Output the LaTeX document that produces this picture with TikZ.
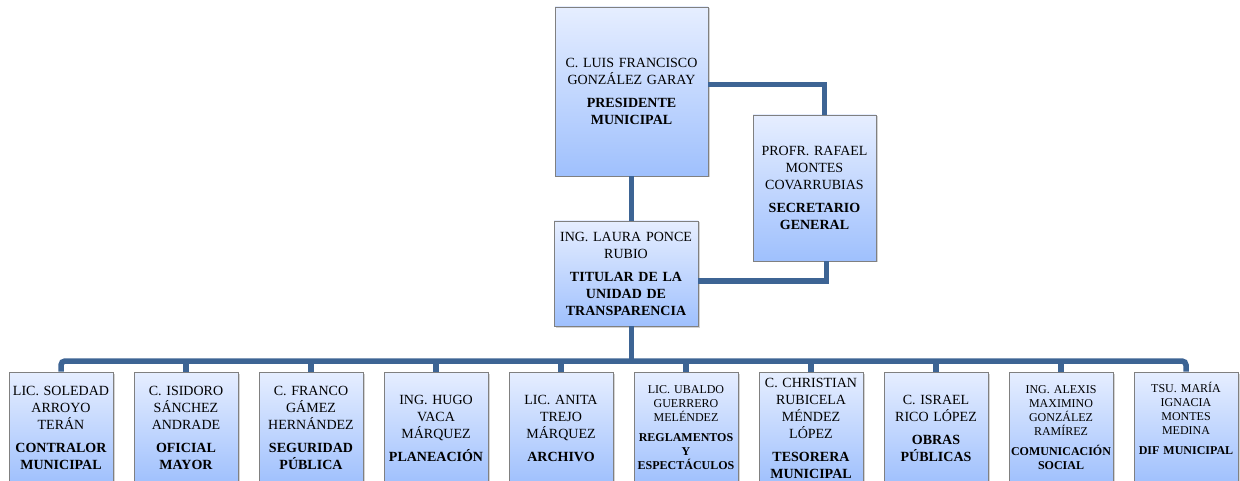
\documentclass[tikz,border=0pt]{standalone}
\usepackage{fontspec}
\setmainfont{Liberation Serif}
\usetikzlibrary{shadows}
\definecolor{boxtop}{HTML}{E6EEFF}
\definecolor{boxbot}{HTML}{9FC0FD}
\definecolor{linkcol}{HTML}{3D6494}

\begin{document}
\begin{tikzpicture}[x=1pt, y=-1pt,
    box/.style={draw=gray, line width=0.9pt, top color=boxtop, bottom color=boxbot, align=center, inner sep=1pt,
        drop shadow={opacity=0.35, shadow xshift=1.5pt, shadow yshift=-1.5pt}},
    big/.style={font=\fontsize{14}{17}\selectfont, text width=102pt},
    small/.style={font=\fontsize{12}{14}\selectfont, text width=102pt},
    link/.style={draw=linkcol, line width=5.5pt}]
\useasboundingbox (0,0) rectangle (1240,481);
\clip (0,0) rectangle (1240,481);
% upper part
\node[box, big, minimum width=153pt, minimum height=169pt, text width=145pt] (pres) at (631.5,91.5)
    {C. LUIS FRANCISCO\\GONZÁLEZ GARAY\\[6pt]{\bfseries PRESIDENTE\\MUNICIPAL}};
\node[box, big, minimum width=123pt, minimum height=146pt, text width=117pt] (sec) at (814.5,188)
    {PROFR. RAFAEL\\MONTES\\COVARRUBIAS\\[6pt]{\bfseries SECRETARIO\\GENERAL}};
\node[box, big, minimum width=144pt, minimum height=105pt, text width=138pt] (tit) at (626,273.5)
    {ING. LAURA PONCE\\RUBIO\\[6pt]{\bfseries TITULAR DE LA\\UNIDAD DE\\TRANSPARENCIA}};
\draw[link] ([yshift=7pt]pres.east) -| ([xshift=10pt]sec.north);
\draw[link] ([xshift=12pt]sec.south) |- ([yshift=-7.5pt]tit.east);
\draw[link] (pres.south) -- (pres.south |- tit.north);
% departments
\coordinate (bus) at (631.5,361);
\foreach \i/\who/\job/\sz in {
    1/{LIC. SOLEDAD\\ARROYO\\TERÁN}/{CONTRALOR\\MUNICIPAL}/big,
    2/{C. ISIDORO\\SÁNCHEZ\\ANDRADE}/{OFICIAL\\MAYOR}/big,
    3/{C. FRANCO\\GÁMEZ\\HERNÁNDEZ}/{SEGURIDAD\\PÚBLICA}/big,
    4/{ING. HUGO\\VACA\\MÁRQUEZ}/{PLANEACIÓN}/big,
    5/{LIC. ANITA\\TREJO\\MÁRQUEZ}/{ARCHIVO}/big,
    6/{LIC. UBALDO\\GUERRERO\\MELÉNDEZ}/{REGLAMENTOS\\Y\\ESPECTÁCULOS}/small,
    7/{C. CHRISTIAN\\RUBICELA\\MÉNDEZ\\LÓPEZ}/{TESORERA\\MUNICIPAL}/big,
    8/{C. ISRAEL\\RICO LÓPEZ}/{OBRAS\\PÚBLICAS}/big,
    9/{ING. ALEXIS\\MAXIMINO\\GONZÁLEZ\\RAMÍREZ}/{COMUNICACIÓN\\SOCIAL}/small,
    10/{TSU. MARÍA\\IGNACIA\\MONTES\\MEDINA}/{DIF MUNICIPAL\\[6pt]\mbox{}}/small} {
    \node[box, \sz, minimum width=104pt, minimum height=112pt] (b\i) at ({61+125*(\i-1)},428)
        {\who\\[6pt]{\bfseries\job}};
}
\draw[link] (pres.south |- tit.south) -- (bus);
\draw[link, rounded corners=4pt] (b1.north) |- (bus) -| (b10.north);
\foreach \i in {2,...,9}
    \draw[link] (b\i.north) -- (b\i.north |- bus);
\end{tikzpicture}
\end{document}
